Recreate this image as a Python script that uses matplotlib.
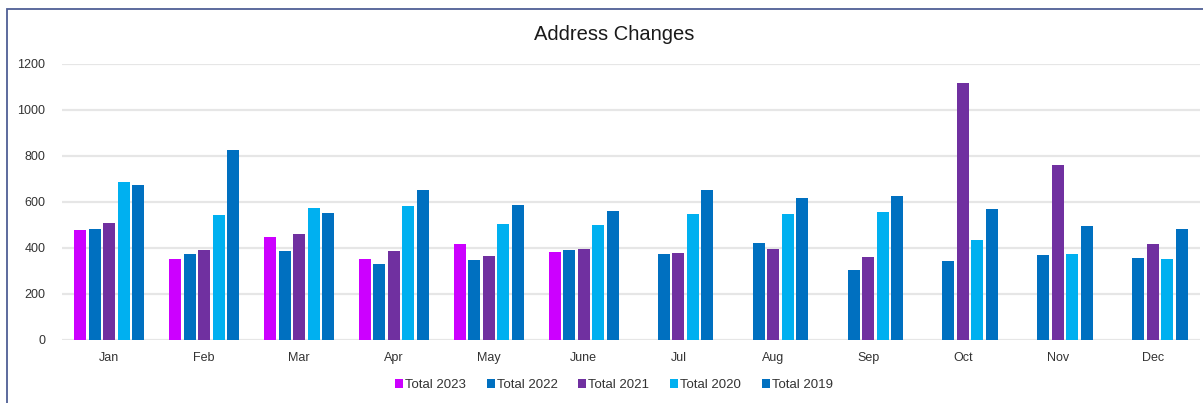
import numpy as np
import matplotlib
matplotlib.use('Agg')
import matplotlib.pyplot as plt
from matplotlib.patches import Rectangle

months = ['Jan', 'Feb', 'Mar', 'Apr', 'May', 'June', 'Jul', 'Aug', 'Sep', 'Oct', 'Nov', 'Dec']
series_names = ['Total 2023', 'Total 2022', 'Total 2021', 'Total 2020', 'Total 2019']
nan = np.nan
total_2023 = [476, 350, 446, 350, 415, 380, nan, nan, nan, nan, nan, nan]
total_2022 = [480, 372, 385, 328, 345, 389, 372, 419, 302, 341, 367, 354]
total_2021 = [506, 389, 459, 385, 363, 393, 376, 393, 358, 1116, 759, 415]
total_2020 = [685, 541, 572, 580, 502, 498, 546, 546, 554, 432, 372, 350]
total_2019 = [672, 824, 550, 650, 585, 559, 650, 615, 624, 567, 493, 480]
colors = ['#CC00FF', '#0070C0', '#7030A0', '#00B0F0', '#0070C0']

plt.rcParams['font.family'] = ['Liberation Sans', 'DejaVu Sans']

fig = plt.figure(figsize=(12.03, 4.03), dpi=100)
ax = fig.add_axes([62 / 1203, 1 - 339.5 / 403, (1200 - 62) / 1203, (339.5 - 63.5) / 403])

# chart border (Excel-like frame)
fig.patches.append(Rectangle((7 / 1203, -0.1), 1.2, (403 - 9) / 403 + 0.1,
                             transform=fig.transFigure, fill=False,
                             edgecolor='#4F5F95', linewidth=1.3))

x = np.arange(len(months))
slot = 0.153
width = 0.127
all_series = [total_2023, total_2022, total_2021, total_2020, total_2019]
handles = []
for i, (vals, name, c) in enumerate(zip(all_series, series_names, colors)):
    b = ax.bar(x + (i - 2) * slot, vals, width=width, color=c, label=name, zorder=3)
    handles.append(b)

ax.set_xlim(-0.5, len(months) - 0.5)
ax.set_ylim(0, 1200)
ax.set_yticks(range(0, 1201, 200))
ax.set_xticks(x)
ax.set_xticklabels(months)
ax.tick_params(length=0, labelsize=9, colors='#333333')
ax.tick_params(axis='x', pad=9)
ax.tick_params(axis='y', pad=12)
for s in ax.spines.values():
    s.set_visible(False)
ax.grid(axis='y', color='#E6E6E6', linewidth=1.6, zorder=0)
ax.set_axisbelow(True)

fig.text(614 / 1203, 1 - 35 / 403, 'Address Changes', ha='center', va='center',
         fontsize=14.5, color='#1a1a1a')

fig.legend(handles=handles, labels=series_names, loc='center',
           bbox_to_anchor=(614 / 1203, 1 - 385 / 403), ncol=5, frameon=False,
           fontsize=9.5, handlelength=0.6, handleheight=0.6, handletextpad=0.15,
           columnspacing=1.6, labelcolor='#333333')

fig.savefig('out.png', dpi=100)
